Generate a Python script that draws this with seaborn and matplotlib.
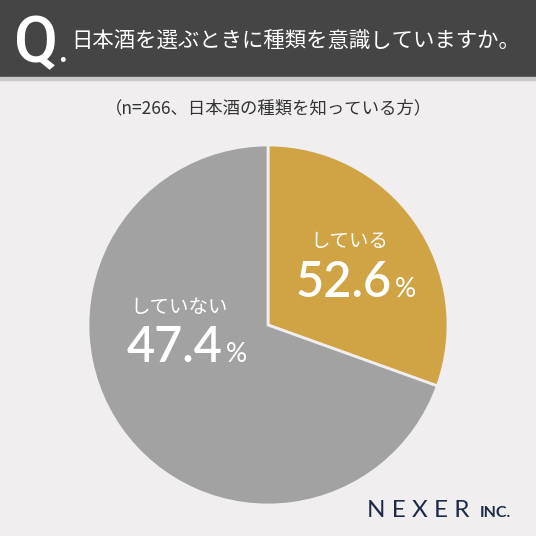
import matplotlib
matplotlib.use("Agg")
import matplotlib.pyplot as plt
import seaborn as sns

# データ
categories = ["している", "していない"]
label_percent = [52.6, 47.4]          # 図に書かれている数値
wedge_share = [30.5, 69.5]            # 図に描かれている扇形の大きさ
colors = ["#d0a444", "#a2a2a2"]

title = "日本酒を選ぶときに種類を意識していますか。"
subtitle = "（n=266、日本酒の種類を知っている方）"

sns.set_theme(style="white")
plt.rcParams["font.family"] = ["Noto Sans CJK JP", "DejaVu Sans"]

W = H = 536
BG = "#f0eeef"
fig = plt.figure(figsize=(W / 100, H / 100), dpi=100, facecolor=BG)

# 背景
bg = fig.add_axes([0, 0, 1, 1])
bg.set_xlim(0, W)
bg.set_ylim(H, 0)
bg.axis("off")
bg.add_patch(plt.Rectangle((0, 0), W, 77, color="#454545", zorder=0))
bg.add_patch(plt.Rectangle((0, 77), W, 3, color="#c9c9c9", zorder=0))

# 円グラフ
cx, cy, r = 268, 325, 180
pie_ax = fig.add_axes([(cx - r) / W, (H - cy - r) / H, 2 * r / W, 2 * r / H])
pie_ax.pie(wedge_share, colors=colors, startangle=90, counterclock=False,
           wedgeprops=dict(edgecolor=BG, linewidth=2))
pie_ax.set_xlim(-1, 1)
pie_ax.set_ylim(-1, 1)
pie_ax.set_aspect("equal")
pie_ax.axis("off")

# テキスト用の軸（最前面）
tx = fig.add_axes([0, 0, 1, 1])
tx.set_xlim(0, W)
tx.set_ylim(H, 0)
tx.axis("off")
tx.patch.set_alpha(0)

tx.text(14, 62, "Q", color="white", fontsize=46, fontweight="medium",
        family=["Roboto", "DejaVu Sans"], va="baseline", ha="left")
tx.text(58, 62, ".", color="white", fontsize=22, fontweight="bold",
        family=["Roboto", "DejaVu Sans"], va="baseline", ha="left")
tx.text(71, 42, title, color="white", fontsize=15.4, va="center", ha="left")
tx.text(268, 108, subtitle, color="#333333", fontsize=12.5, va="center", ha="center")

num_font = ["Lato", "Noto Sans CJK JP"]
# (ラベルx, ラベルy, 数値x, 数値ベースライン)
label_pos = [(310, 242, 296, 297), (130, 307, 127, 362)]
for cat, pct, (lx, ly, nx, by) in zip(categories, label_percent, label_pos):
    tx.text(lx, ly, cat, color="white", fontsize=14, va="center", ha="left")
    t = tx.text(nx, by, f"{pct:.1f}", color="white", fontsize=35,
                fontweight="semibold", family=num_font, va="baseline", ha="left")
    fig.canvas.draw()
    bb = t.get_window_extent().transformed(tx.transData.inverted())
    tx.text(bb.x1 + 3, by, "%", color="white", fontsize=19,
            family=num_font, va="baseline", ha="left")

# ロゴ
tx.text(367, 517, "N E X E R", color="#1c2a45", fontsize=17.5, family=["Lato", "DejaVu Sans"],
        va="baseline", ha="left")
tx.text(480, 517, "INC.", color="#1c2a45", fontsize=11.5, fontweight="bold",
        family=["Lato", "DejaVu Sans"], va="baseline", ha="left")

fig.savefig("out.png", dpi=100, facecolor=fig.get_facecolor())
